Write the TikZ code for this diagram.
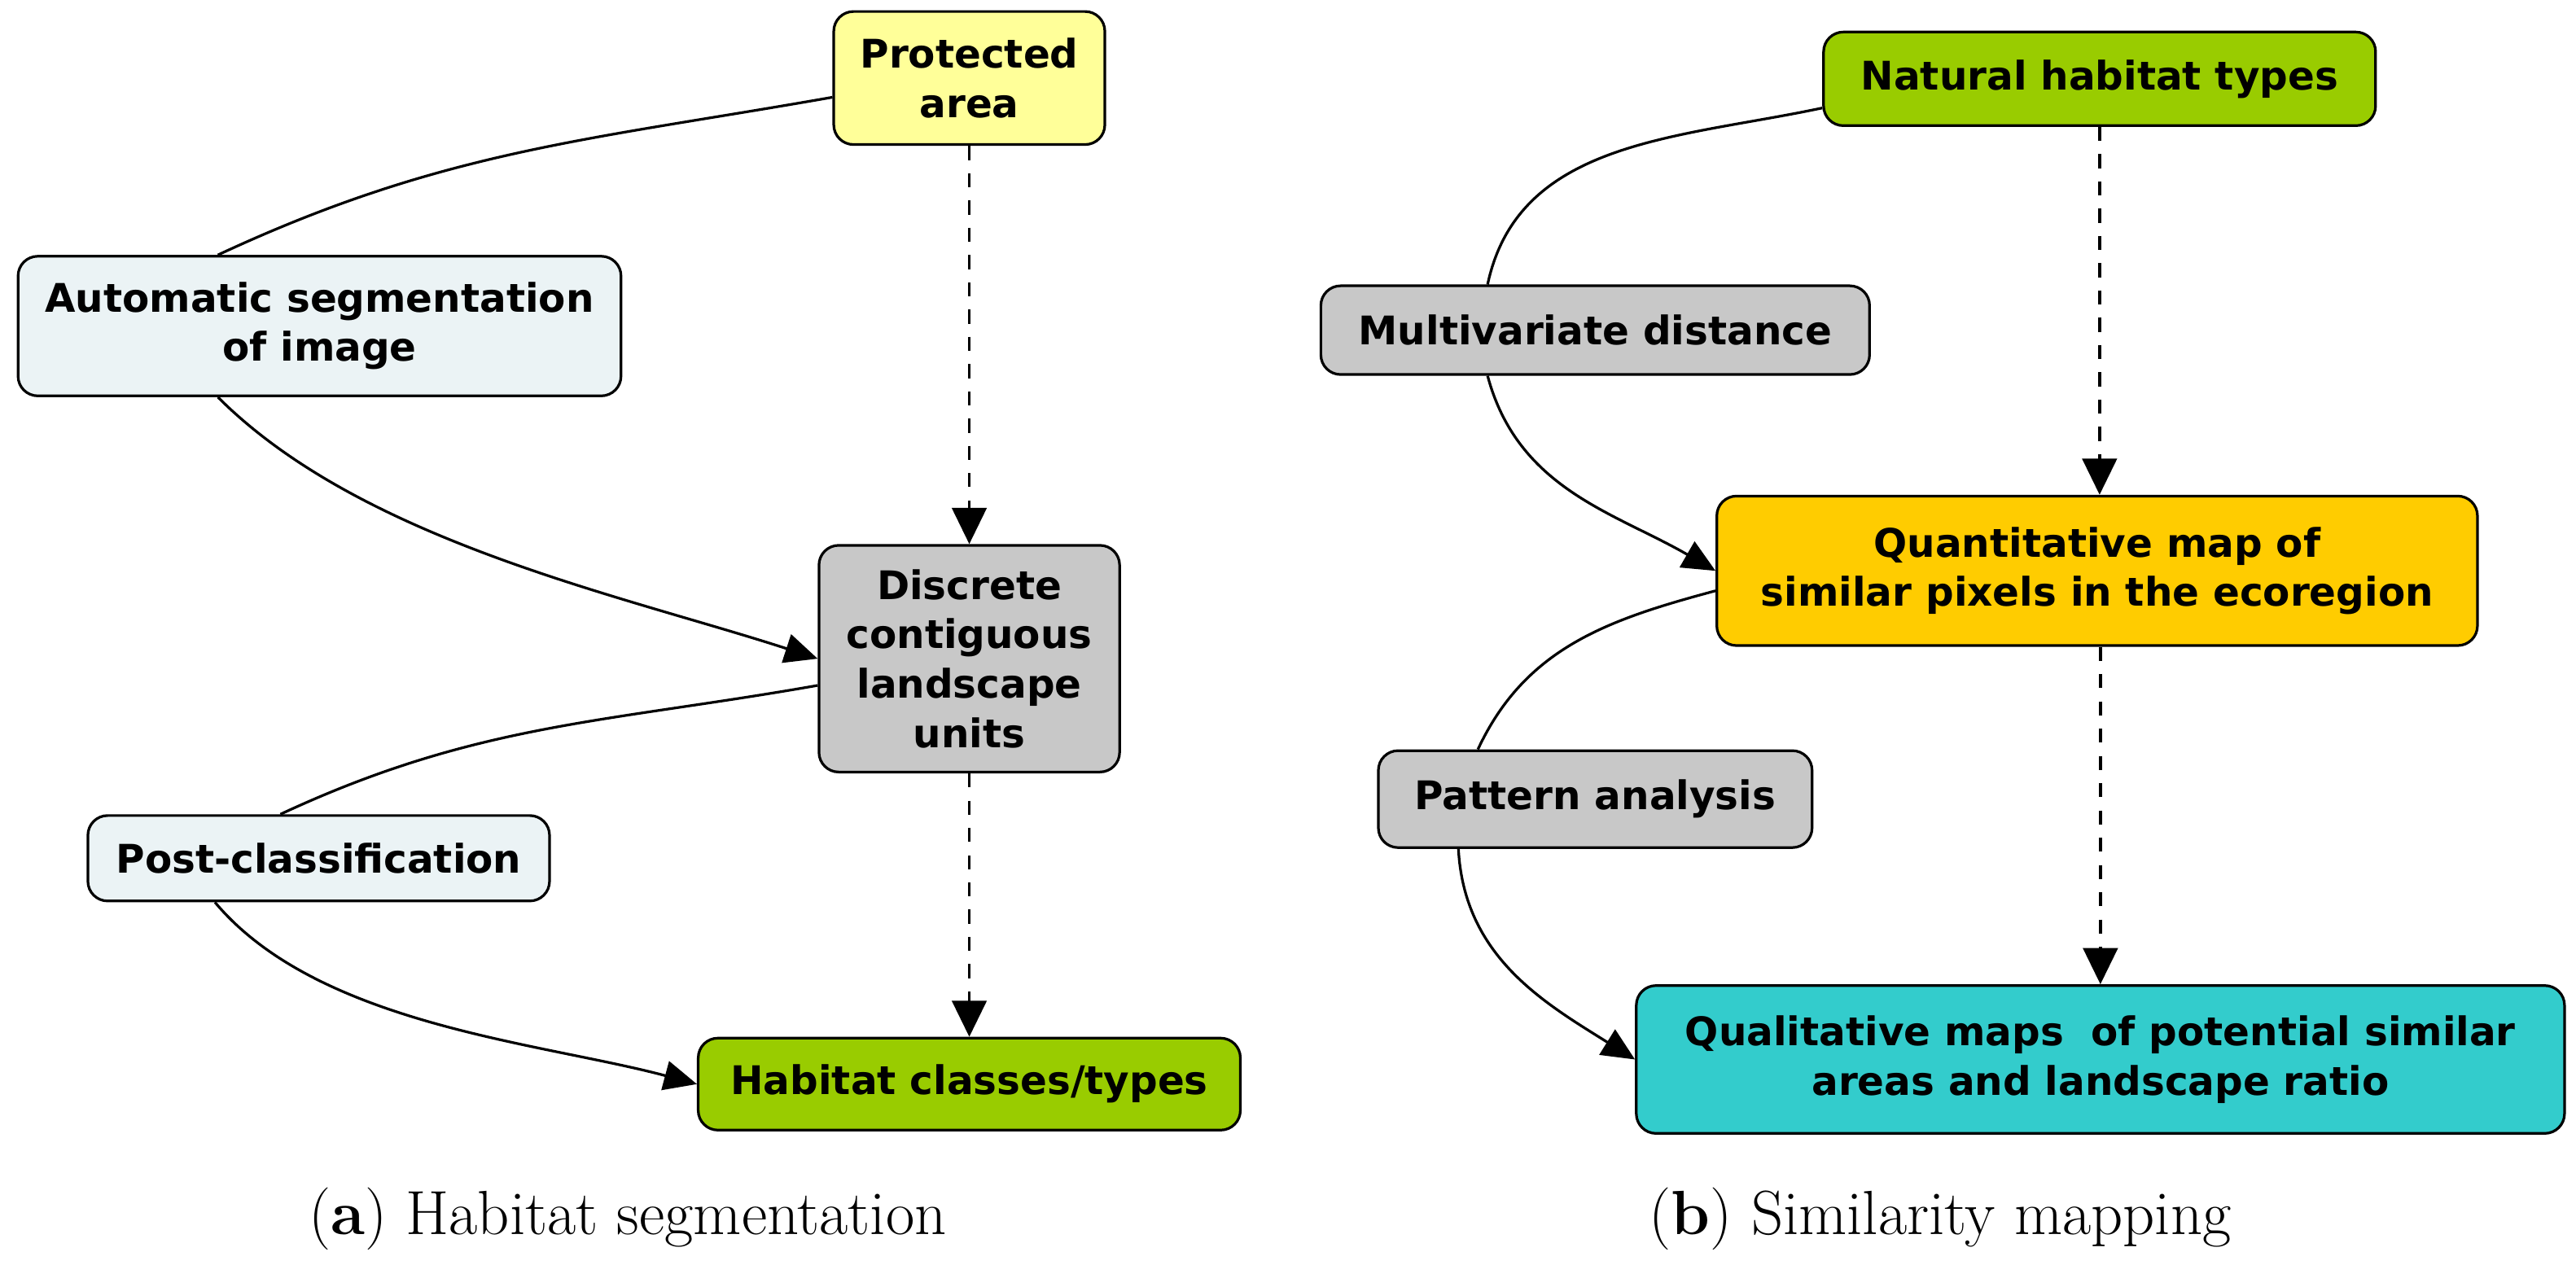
\documentclass[tikz,border=0pt]{standalone}
\usepackage{fontspec}
\newfontfamily\mapfont{DejaVu Sans}
\usetikzlibrary{arrows.meta}
\definecolor{mapyellow}{RGB}{255,255,153}
\definecolor{mappale}{RGB}{235,243,245}
\definecolor{mapgrey}{RGB}{200,200,200}
\definecolor{mapgreen}{RGB}{153,204,0}
\definecolor{mapamber}{RGB}{255,204,0}
\definecolor{mapteal}{RGB}{51,204,204}

\begin{document}
\begin{tikzpicture}[
x=0.5pt, y=-0.5pt,
box/.style={rectangle, rounded corners=6pt, draw=black, line width=0.8pt, align=center, inner sep=0pt, font=\mapfont\bfseries\fontsize{12}{15}\selectfont},
yel/.style={box,fill=mapyellow},
pale/.style={box,fill=mappale},
gry/.style={box,fill=mapgrey},
grn/.style={box,fill=mapgreen},
amb/.style={box,fill=mapamber},
tea/.style={box,fill=mapteal},
link/.style={line width=0.8pt},
flow/.style={link,-{Triangle[length=10pt,width=9pt]}},
dashflow/.style={line width=0.9pt, dash pattern=on 4.3pt off 4pt, -{Triangle[length=11pt,width=10.5pt]}},
caption/.style={anchor=base, font=\fontsize{19}{23}\selectfont}]

\useasboundingbox (0,0) rectangle (1568,770);

% (a) habitat segmentation
\node[yel, minimum width=82.5pt, minimum height=40.5pt] (prot) at (590,47.5) {Protected\\area};
\node[pale, minimum width=183.5pt, minimum height=42.5pt] (autoseg) at (194.5,198.5) {Automatic segmentation\\of image};
\node[gry, minimum width=91.5pt, minimum height=69pt] (discrete) at (590,401) {Discrete\\contiguous\\landscape\\units};
\node[pale, minimum width=140.5pt, minimum height=26pt] (postcls) at (194,522.5) {Post-classification};
\node[grn, minimum width=165pt, minimum height=28pt] (habtypes) at (590,660) {Habitat classes/types};

\draw[dashflow] (prot.south) -- (discrete.north);
\draw[dashflow] (discrete.south) -- (habtypes.north);
\draw[link] (prot.188) to[out=190,in=25] (autoseg.145);
\draw[flow] (autoseg.215) to[out=-45,in=162,looseness=0.8] (discrete.west);
\draw[link] (discrete.190) to[out=190,in=25] (postcls.131);
\draw[flow] (postcls.203) to[out=-50,in=165,looseness=0.8] (habtypes.west);

% (b) similarity mapping
\node[grn, minimum width=168pt, minimum height=28.5pt] (nattypes) at (1278,48) {Natural habitat types};
\node[gry, minimum width=167pt, minimum height=27pt] (multdist) at (971,201) {Multivariate distance};
\node[amb, minimum width=231.5pt, minimum height=45.5pt] (quantmap) at (1276.5,347.5) {Quantitative map of\\similar pixels in the ecoregion};
\node[gry, minimum width=132pt, minimum height=29.5pt] (pattern) at (971,486.5) {Pattern analysis};
\node[tea, minimum width=282.5pt, minimum height=45pt] (qualmap) at (1278.5,645) {Qualitative maps\ \ of potential similar\\areas and landscape ratio};

\draw[dashflow] (nattypes.south) -- (nattypes.south |- quantmap.north);
\draw[dashflow] (quantmap.south -| qualmap.north) -- (qualmap.north);
\draw[link] (nattypes.186) to[out=192,in=78] (multdist.157);
\draw[flow] (multdist.203) to[out=-75,in=150] (quantmap.west);
\draw[link] (quantmap.183) to[out=195,in=65] (pattern.157);
\draw[flow] (pattern.200) to[out=-87,in=148] (qualmap.west);

\node[caption] (capa) at (382,751.5) {(\textbf{a}) Habitat segmentation};
\node[caption] (capb) at (1181,751.5) {(\textbf{b}) Similarity mapping};
\end{tikzpicture}
\end{document}
